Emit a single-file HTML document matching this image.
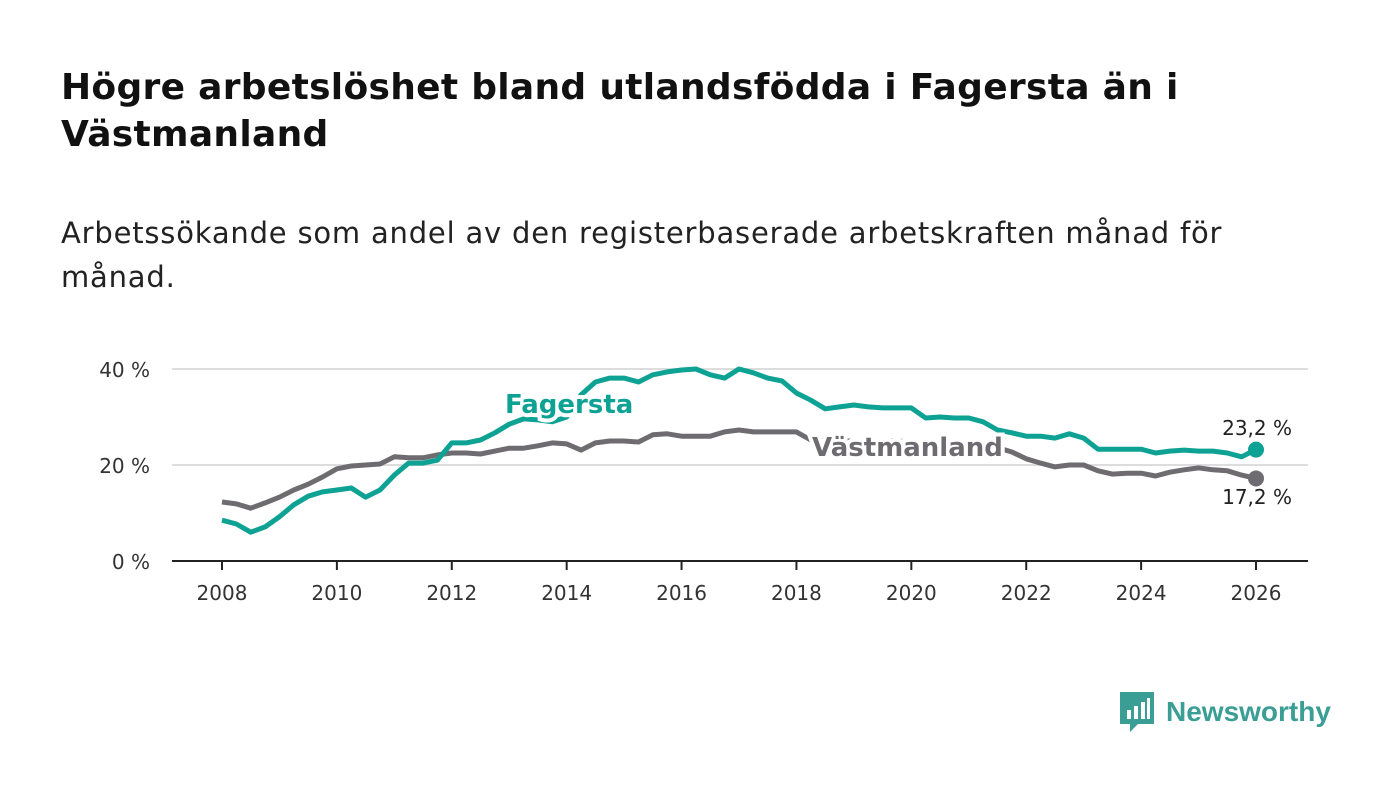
<!DOCTYPE html>
<html><head><meta charset="utf-8"><style>
body{margin:0;width:1400px;height:794px;background:#fff;font-family:"DejaVu Sans","Liberation Sans",sans-serif;color:#111;overflow:hidden;position:relative}
h1{position:absolute;left:61px;top:64px;margin:0;font-size:36px;letter-spacing:0.3px;line-height:47px;font-weight:bold;width:1300px;white-space:nowrap}
p{position:absolute;left:61px;top:211px;margin:0;font-size:29px;letter-spacing:0.8px;line-height:44px;width:1300px;color:#222;white-space:nowrap}
svg{position:absolute;left:0;top:0}
</style></head><body>
<h1>Högre arbetslöshet bland utlandsfödda i Fagersta än i<br>Västmanland</h1>
<p>Arbetssökande som andel av den registerbaserade arbetskraften månad för<br>månad.</p>
<svg id="chart" width="1400" height="794"></svg>
<div style="position:absolute;left:1118px;top:690px;height:44px;display:flex;align-items:center">
<svg width="38" height="44" viewBox="0 0 38 44" style="position:static"><path d="M2 2h34v32H20l-8 8v-8H2z" fill="#3a9e94"/><rect x="9" y="20" width="4" height="9" fill="#fff"/><rect x="16" y="16" width="4" height="13" fill="#fff"/><rect x="23" y="12" width="4" height="17" fill="#fff"/><rect x="29" y="8" width="3" height="21" fill="#fff"/></svg>
<span style="color:#3a9e94;font-size:28px;margin-left:10px;font-weight:bold;font-family:'Liberation Sans',sans-serif">Newsworthy</span></div>
<script>
const years=[2008,2010,2012,2014,2016,2018,2020,2022,2024,2026];
const yTicks=[0,20,40];
const startYear=2008;
const fagersta=[8.5,7.7,6.0,7.1,9.2,11.7,13.5,14.4,14.8,15.2,13.3,14.8,17.9,20.4,20.4,21.0,24.6,24.6,25.2,26.7,28.5,29.6,29.4,29.0,30,34.6,37.3,38.1,38.1,37.3,38.8,39.4,39.8,40.0,38.8,38.1,40,39.2,38.1,37.5,35,33.5,31.7,32.1,32.5,32.1,31.9,31.9,31.9,29.8,30,29.8,29.8,29,27.3,26.7,26,26,25.6,26.5,25.6,23.3,23.3,23.3,23.3,22.5,22.9,23.1,22.9,22.9,22.5,21.7,23.2];
const vastmanland=[12.3,11.9,11,12.1,13.3,14.8,16,17.5,19.2,19.8,20,20.2,21.7,21.5,21.5,22.1,22.5,22.5,22.3,22.9,23.5,23.5,24,24.6,24.4,23.1,24.6,25,25,24.8,26.3,26.5,26,26,26,26.9,27.3,26.9,26.9,26.9,26.9,25.2,25,25,25,25,25,25,24.8,24.5,24.3,24,24,23.8,23.6,22.7,21.3,20.4,19.6,20,20,18.8,18.1,18.3,18.3,17.7,18.5,19,19.4,19,18.8,17.9,17.2];
const NS="http://www.w3.org/2000/svg",svg=document.getElementById('chart');
const X=y=>222+(y-2008)*(1034/18), Y=v=>561-v*4.8;
function el(t,a,parent){const e=document.createElementNS(NS,t);for(const k in a)e.setAttribute(k,a[k]);(parent||svg).appendChild(e);return e;}
yTicks.forEach(t=>{
 if(t>0){const g=el('line',{x1:172,x2:1308,y1:Y(t),y2:Y(t),stroke:'#ddd','stroke-width':2});
 
 }
 const l=el('text',{x:150,y:Y(t)+8,'text-anchor':'end','font-size':20,fill:'#333'});l.textContent=t+' %';
 
 
});
const ax=el('line',{x1:172,x2:1308,y1:561,y2:561,stroke:'#222','stroke-width':2});


years.forEach(yr=>{
 const tk=el('line',{x1:X(yr),x2:X(yr),y1:561,y2:570,stroke:'#222','stroke-width':2});
 
 
 const l=el('text',{x:X(yr),y:600,'text-anchor':'middle','font-size':20,fill:'#333'});l.textContent=yr;
 
 
});
function line(data,color,name){
 const d=data.map((v,i)=>(i?'L':'M')+X(startYear+i/4).toFixed(1)+' '+Y(v).toFixed(1)).join('');
 const p=el('path',{d,fill:'none',stroke:color,'stroke-width':5,'stroke-linejoin':'round'});
 
 
 const last=data.length-1;
 const c=el('circle',{cx:X(startYear+last/4),cy:Y(data[last]),r:8,fill:color});
 
 
}
line(vastmanland,'#6e6c70','vastmanland');
line(fagersta,'#0ea294','fagersta');
function lab(txt,x,y,color,size,bold,name,anchor){
 const t=el('text',{x,y,fill:color,'font-size':size,'font-weight':bold?'bold':'normal',stroke:'#fff','stroke-width':bold?8:5,'paint-order':'stroke','text-anchor':anchor||'start'});
 t.textContent=txt;
 
 
}
lab('Fagersta',505,413,'#0ea294',26,true,'fagersta-label');
lab('Västmanland',812,456,'#6e6c70',26,true,'vastmanland-label');
lab('23,2 %',1292,435,'#222',20,false,'fagersta-last-value','end');
lab('17,2 %',1292,504,'#222',20,false,'vastmanland-last-value','end');
</script>
</body></html>
